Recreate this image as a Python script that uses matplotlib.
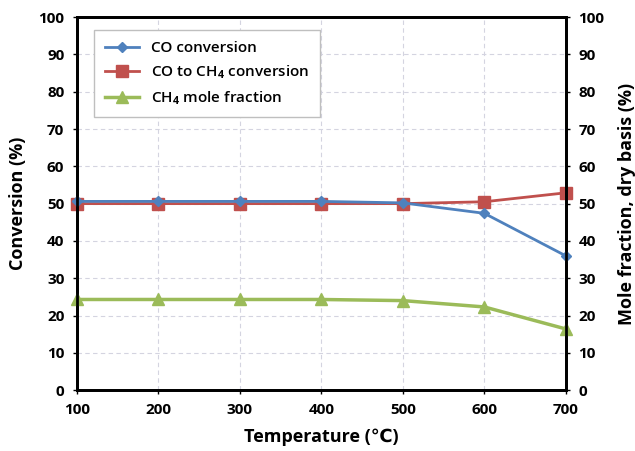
import matplotlib.pyplot as plt

temperature = [100, 200, 300, 400, 500, 600, 700]
co_conversion = [50.6, 50.6, 50.6, 50.6, 50.2, 47.4, 36.0]
co_to_ch4 = [50.0, 50.0, 50.0, 50.0, 50.0, 50.5, 52.9]
ch4_mole_fraction = [24.3, 24.3, 24.3, 24.3, 24.0, 22.3, 16.4]

plt.rcParams['font.family'] = ['Open Sans', 'DejaVu Sans']
plt.rcParams['font.weight'] = 'bold'
plt.rcParams['mathtext.fontset'] = 'custom'
plt.rcParams['mathtext.rm'] = 'Open Sans'
plt.rcParams['mathtext.default'] = 'rm'

fig = plt.figure(figsize=(6.35, 4.51), dpi=100)
ax = fig.add_axes([0.121, 0.135, 0.770, 0.827])
ax2 = ax.twinx()

ax.plot(temperature, co_conversion, color='#4f81bd', marker='D', markersize=5, lw=2, label='CO conversion', clip_on=False, zorder=3)
ax.plot(temperature, co_to_ch4, color='#c0504d', marker='s', markersize=8, lw=2, label='CO to CH$_4$ conversion', clip_on=False, zorder=2)
ax2.plot(temperature, ch4_mole_fraction, color='#9bbb59', marker='^', markersize=8, lw=2.5, label='CH$_4$ mole fraction', clip_on=False)

for a in (ax, ax2):
    a.set_xlim(100, 700)
    a.set_ylim(0, 100)
    a.set_yticks(range(0, 101, 10))
    for s in a.spines.values():
        s.set_linewidth(2)
    a.tick_params(labelsize=11, length=3, width=1, pad=6)

ax.set_xticks(temperature)
ax.grid(True, color='#d4d4e0', linestyle=(0, (4, 3)), lw=0.8)
ax.set_axisbelow(True)

ax.set_xlabel('Temperature (℃)', fontsize=13, fontweight='bold', labelpad=8)
ax.set_ylabel('Conversion (%)', fontsize=13, fontweight='bold', labelpad=8)
ax2.set_ylabel('Mole fraction, dry basis (%)', fontsize=13, fontweight='bold', labelpad=10)

h1, l1 = ax.get_legend_handles_labels()
h2, l2 = ax2.get_legend_handles_labels()
leg = ax2.legend(h1 + h2, l1 + l2, loc='upper left', bbox_to_anchor=(0.02, 0.985),
                 fontsize=11, fancybox=False, edgecolor='#bfbfbf', framealpha=1,
                 handlelength=2.2, labelspacing=0.55, borderpad=0.7)
leg.get_frame().set_linewidth(1)
for t in leg.get_texts():
    t.set_fontweight('semibold')

fig.savefig('out.png', dpi=100)
